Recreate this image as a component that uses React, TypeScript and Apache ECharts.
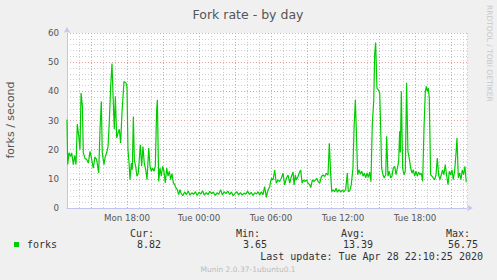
import React, { useEffect, useRef } from "react";
import * as echarts from "echarts";

// hours since Mon 00:00, forks per second
const monAfternoon: [number, number][] = [
  [13.0, 30.3], [13.06, 14.9], [13.17, 18.9], [13.31, 17.7], [13.39, 18.9], [13.53, 14.9], [13.64, 18], [13.75, 14.9],
  [13.86, 28.8], [13.97, 25], [14.08, 20], [14.17, 39.4], [14.28, 35], [14.36, 18.9], [14.5, 17], [14.64, 16.6],
  [14.78, 15.4], [14.92, 19.4], [15.06, 16.6], [15.19, 13.7], [15.33, 17.5], [15.47, 16.6], [15.64, 12], [15.75, 26.9],
  [15.86, 36.6], [15.94, 18.9], [16.08, 14.9], [16.19, 17.7], [16.31, 19], [16.42, 21], [16.53, 30], [16.64, 41.7],
  [16.75, 49.5], [16.86, 36], [16.94, 27], [17.03, 38.3], [17.14, 24], [17.25, 25.7], [17.36, 27], [17.47, 22.3],
  [17.58, 32.6], [17.75, 43.4], [17.92, 42.8], [18.0, 41.5], [18.08, 20], [18.17, 15.5], [18.25, 9.7], [18.36, 15.4],
  [18.44, 13.1], [18.53, 31.4], [18.61, 16.6], [18.72, 14.3], [18.83, 10.9], [18.94, 12], [19.11, 21.7], [19.22, 14.3],
  [19.33, 21.1], [19.44, 15.4], [19.56, 13.1], [19.67, 9.7], [19.81, 20.6], [19.92, 14.3], [20.03, 12.6], [20.14, 13.7],
  [20.25, 12.6], [20.36, 14.3], [20.47, 33.7], [20.53, 37.1], [20.64, 9.1], [20.75, 13.7], [20.86, 10.9], [20.97, 14.3],
  [21.08, 12.6], [21.19, 8.6], [21.31, 13.7], [21.42, 10.9], [21.53, 12.6], [21.64, 9.7], [21.75, 11.8], [21.86, 8.6],
  [21.97, 8], [22.08, 6.9], [22.19, 6.3], [22.31, 4.6], [22.42, 6.3],
];

const night: [number, number][] = [
  [22.5, 5.1], [22.65, 4.2], [22.8, 5.5], [22.95, 4.6], [23.1, 5.8], [23.25, 4.4], [23.4, 5.2], [23.55, 4.7],
  [23.7, 5.6], [23.85, 4.3], [24.0, 5.4], [24.15, 4.8], [24.3, 5.9], [24.45, 4.4], [24.6, 5.3], [24.75, 4.6],
  [24.9, 5.7], [25.05, 4.9], [25.2, 5.5], [25.35, 4.3], [25.5, 5.2], [25.65, 4.7], [25.8, 6.3], [25.95, 4.5],
  [26.1, 5.6], [26.25, 4.9], [26.4, 5.8], [26.55, 4.6], [26.7, 5.5], [26.85, 4.2], [27.0, 5.0], [27.15, 5.6],
  [27.3, 4.5], [27.45, 5.3], [27.6, 4.4], [27.75, 5.1], [27.9, 4.7], [28.05, 5.8], [28.2, 4.6], [28.35, 5.4],
  [28.5, 4.3], [28.65, 5.2], [28.8, 4.8],
];

const tueMorning: [number, number][] = [
  [28.92, 5.6], [29.06, 4.5], [29.2, 5.6], [29.33, 4.5], [29.47, 7.3], [29.61, 3.65], [29.75, 6.2], [29.89, 7.3],
  [30.03, 10.2], [30.17, 9.6], [30.31, 13.0], [30.44, 8.5], [30.58, 9.6], [30.72, 9.1], [30.86, 10.2], [31.0, 11.9],
  [31.14, 7.9], [31.28, 10.2], [31.42, 11.3], [31.56, 8.5], [31.7, 10.8], [31.84, 12.4], [31.92, 7.9], [32.03, 11.3],
  [32.11, 9.6], [32.25, 10.8], [32.39, 12.4], [32.48, 13.0], [32.59, 8.5], [32.7, 9.6], [32.81, 9.1], [32.95, 9.6],
  [33.09, 8.5], [33.23, 7.9], [33.31, 7.0], [33.45, 9.6], [33.59, 9.1], [33.7, 9.6], [33.81, 10.2], [33.92, 9.1],
  [34.06, 8.5], [34.2, 10.8], [34.34, 11.3], [34.48, 10.8], [34.61, 11.9], [34.75, 11.3], [34.86, 22.2], [34.97, 11.9],
  [35.06, 5.6], [35.17, 6.2], [35.31, 5.6], [35.42, 6.8],
];

const tueAfternoon: [number, number][] = [
  [35.53, 5.4], [35.67, 6.3], [35.81, 5.4], [35.94, 6.1], [36.08, 5.6], [36.22, 6.3], [36.36, 12.0], [36.44, 5.6],
  [36.56, 5.9], [36.69, 8.0], [36.83, 13.7], [36.92, 27.4], [37.03, 37.1], [37.14, 22.9], [37.22, 11.4], [37.33, 13.1],
  [37.44, 11.6], [37.56, 12.6], [37.67, 10.9], [37.78, 12.0], [37.89, 10.3], [38.0, 12.0], [38.11, 10.5], [38.22, 12.3],
  [38.33, 9.0], [38.44, 28.6], [38.56, 36.6], [38.64, 52.6], [38.72, 56.75], [38.83, 41.1], [38.94, 40.5], [39.06, 39.4],
  [39.14, 27.4], [39.22, 13.7], [39.33, 11.4], [39.44, 10.3], [39.56, 11.4], [39.64, 24.6], [39.75, 10.9], [39.86, 12.6],
  [39.97, 10.3], [40.08, 10.9], [40.19, 13.7], [40.31, 14.3], [40.42, 11.4], [40.53, 13.7], [40.64, 16.0], [40.72, 26.3],
  [40.78, 19.0], [40.86, 40.0],
];

const tueEvening: [number, number][] = [
  [40.97, 13.7], [41.08, 11.4], [41.19, 12.6], [41.3, 42.9], [41.41, 19.4], [41.52, 17.1], [41.64, 13.7], [41.75, 12.0],
  [41.86, 13.1], [41.97, 10.9], [42.08, 12.6], [42.19, 10.9], [42.3, 12.3], [42.41, 11.4], [42.52, 12.0], [42.64, 9.1],
  [42.75, 27.4], [42.86, 40.0], [42.94, 41.7], [43.02, 40.0], [43.11, 41.1], [43.19, 37.7], [43.3, 11.4], [43.41, 10.9],
  [43.52, 10.3], [43.64, 9.7], [43.75, 11.4], [43.86, 17.1], [43.97, 11.4], [44.08, 9.7], [44.19, 11.4], [44.3, 13.1],
  [44.41, 11.4], [44.52, 14.9], [44.63, 11.4], [44.75, 8.0], [44.86, 12.6], [44.97, 11.4], [45.08, 13.1], [45.19, 9.7],
  [45.3, 12.6], [45.41, 18.3], [45.5, 24.0], [45.61, 10.3], [45.72, 12.0], [45.83, 9.7], [45.94, 13.1], [46.05, 11.4],
  [46.16, 14.3], [46.27, 8.82],
];

const xTickLabels: [number, string][] = [
  [18, "Mon 18:00"],
  [24, "Tue 00:00"],
  [30, "Tue 06:00"],
  [36, "Tue 12:00"],
  [42, "Tue 18:00"],
];
const yTickLabels = [0, 10, 20, 30, 40, 50, 60];

const statNames = ["Cur:", "Min:", "Avg:", "Max:"];
const statValues = [8.82, 3.65, 13.39, 56.75];

const TITLE = "Fork rate - by day";
const Y_NAME = "forks / second";
const SERIES_NAME = "forks";
const LAST_UPDATE = "Last update: Tue Apr 28 22:10:25 2020";
const VERSION = "Munin 2.0.37-1ubuntu0.1";
const SIDE = "RRDTOOL / TOBI OETIKER";

export default function App() {
  const ref = useRef<HTMLDivElement>(null);
  useEffect(() => {
    if (!ref.current) return;
    const chart = echarts.init(ref.current, null, { renderer: "svg" });
    const data = [...monAfternoon, ...night, ...tueMorning, ...tueAfternoon, ...tueEvening];
    const red = "#e4a0a0";
    const gray = "#cfcfcf";
    const mono = "DejaVu Sans Mono";
    const sans = "DejaVu Sans";
    const statEnds = [154, 260, 365, 470];
    const valueEnds = [161, 267, 373, 478];
    const graphic: any[] = [
      { type: "text", x: 248, y: 14, style: { text: TITLE, fill: "#555", font: `12.5px ${sans}`, align: "center", verticalAlign: "middle" } },
      { type: "text", x: 10, y: 120, rotation: Math.PI / 2, style: { text: Y_NAME, fill: "#555", font: `11px ${sans}`, align: "center", verticalAlign: "middle" } },
      { type: "text", x: 489, y: 5, rotation: -Math.PI / 2, style: { text: SIDE, fill: "#c8c8c8", font: `7.5px ${sans}`, align: "left", verticalAlign: "middle" } },
      { type: "rect", shape: { x: 14, y: 242, width: 5, height: 5 }, style: { fill: "#00cc00" } },
      { type: "text", x: 27, y: 244.5, style: { text: SERIES_NAME, fill: "#333", font: `10px ${mono}`, align: "left", verticalAlign: "middle" } },
      { type: "text", x: 483, y: 256, style: { text: LAST_UPDATE, fill: "#333", font: `10px ${mono}`, align: "right", verticalAlign: "middle" } },
      { type: "text", x: 248, y: 269.5, style: { text: VERSION, fill: "#bbb", font: `7.5px ${sans}`, align: "center", verticalAlign: "middle" } },
    ];
    statNames.forEach((n, i) => {
      graphic.push({ type: "text", x: statEnds[i], y: 233, style: { text: n, fill: "#333", font: `10px ${mono}`, align: "right", verticalAlign: "middle" } });
      graphic.push({ type: "text", x: valueEnds[i], y: 244.5, style: { text: statValues[i].toFixed(2), fill: "#333", font: `10px ${mono}`, align: "right", verticalAlign: "middle" } });
    });
    const labelMap = new Map(xTickLabels);
    chart.setOption({
      animation: false,
      backgroundColor: "#f0f0f0",
      grid: { left: 67, top: 33, width: 400, height: 175, show: true, backgroundColor: "#ffffff", borderWidth: 0 },
      xAxis: {
        type: "value",
        min: 13,
        max: 13 + 400 / 12,
        interval: 1,
        axisLine: { show: true, lineStyle: { color: "#c4c4f0", width: 1 }, symbol: ["none", "arrow"], symbolSize: [5, 6], symbolOffset: [0, 6] },
        axisTick: { show: false },
        axisLabel: {
          color: "#555",
          fontFamily: sans,
          fontSize: 8.7,
          margin: 5,
          showMaxLabel: false,
          formatter: (v: number) => labelMap.get(Math.round(v)) && Math.abs(v - Math.round(v)) < 1e-6 ? labelMap.get(Math.round(v)) : "",
        },
        splitLine: { show: true, lineStyle: { color: [gray, gray, red], type: [1, 2], width: 1 } },
      },
      yAxis: {
        type: "value",
        min: 0,
        max: 60,
        interval: 2,
        axisLine: { show: true, lineStyle: { color: "#c4c4f0", width: 1 }, symbol: ["none", "arrow"], symbolSize: [5, 6], symbolOffset: [0, 6] },
        axisTick: { show: false },
        axisLabel: {
          color: "#555",
          fontFamily: sans,
          fontSize: 8.7,
          margin: 8,
          formatter: (v: number) => (yTickLabels.includes(v) ? String(v) : ""),
        },
        splitLine: { show: true, lineStyle: { color: [red, gray, gray, gray, gray], type: [1, 2], width: 1 } },
      },
      series: [
        {
          type: "line",
          name: SERIES_NAME,
          data,
          showSymbol: false,
          symbol: "none",
          lineStyle: { color: "#00cc00", width: 1.2 },
          z: 5,
        },
      ],
      graphic,
    });
    return () => chart.dispose();
  }, []);
  return <div ref={ref} style={{ position: "fixed", left: 0, top: 0, width: 497, height: 280 }} />;
}
